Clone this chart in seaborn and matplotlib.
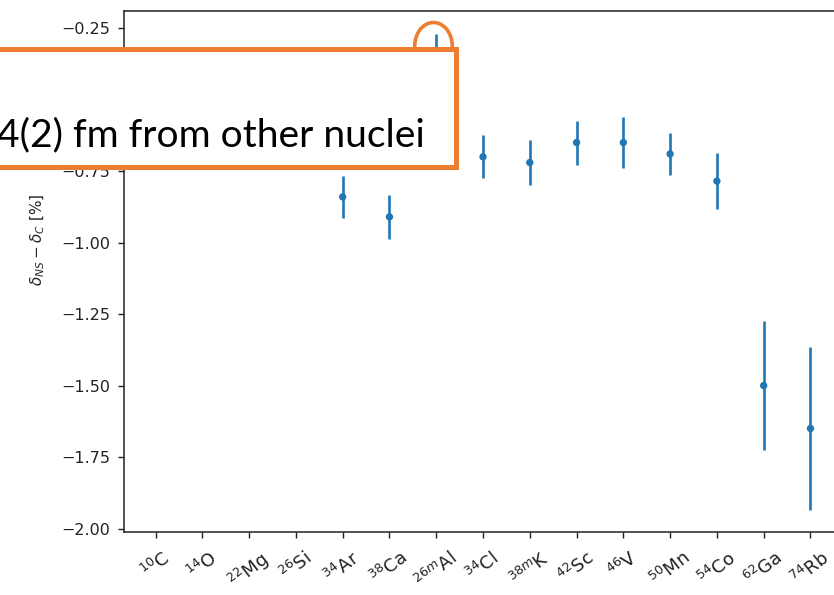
import numpy as np
import pandas as pd
import matplotlib
matplotlib.use("Agg")
import matplotlib.pyplot as plt
import seaborn as sns
from matplotlib.patches import Rectangle, Ellipse

# Superallowed emitters on the x axis
nuclei = [r"$^{10}$C", r"$^{14}$O", r"$^{22}$Mg", r"$^{26}$Si", r"$^{34}$Ar",
          r"$^{38}$Ca", r"$^{26m}$Al", r"$^{34}$Cl", r"$^{38m}$K", r"$^{42}$Sc",
          r"$^{46}$V", r"$^{50}$Mn", r"$^{54}$Co", r"$^{62}$Ga", r"$^{74}$Rb"]

# delta_NS - delta_C [%] and its uncertainty
delta_diff = [np.nan, np.nan, np.nan, np.nan, -0.84, -0.91, -0.345, -0.70,
              -0.72, -0.65, -0.65, -0.69, -0.785, -1.50, -1.65]
delta_err = [np.nan, np.nan, np.nan, np.nan, 0.073, 0.077, 0.075, 0.075,
             0.080, 0.077, 0.090, 0.074, 0.098, 0.225, 0.285]

y_ticks = [-2.00, -1.75, -1.50, -1.25, -1.00, -0.75, -0.50, -0.25]

note_text = "4(2) fm from other nuclei"

df = pd.DataFrame({"pos": np.arange(len(nuclei)),
                   "value": delta_diff,
                   "err": delta_err})

sns.set_style("ticks", rc={"axes.edgecolor": "#222222",
                           "xtick.color": "#222222",
                           "ytick.color": "#222222"})
plt.rcParams["font.family"] = ["DejaVu Sans"]
plt.rcParams["mathtext.fontset"] = "dejavusans"

W, H = 834, 595
fig = plt.figure(figsize=(W / 100, H / 100), dpi=100)
fig.patch.set_facecolor("white")


def fx(px):
    return px / W


def fy(py):
    return 1 - py / H


# axes run past the right edge of the figure
ax_l, ax_r, ax_t, ax_b = 123.5, 842.5, 11, 532
ax = fig.add_axes([fx(ax_l), fy(ax_b), fx(ax_r - ax_l), (ax_b - ax_t) / H])

blue = "#1f77b4"
ax.errorbar(df["pos"], df["value"], yerr=df["err"], fmt="none",
            ecolor=blue, elinewidth=1.9, capsize=0, zorder=2)
sns.scatterplot(data=df, x="pos", y="value", ax=ax, color=blue, s=28,
                edgecolor="none", linewidth=0, zorder=3, legend=False)

ax.set_xlim(-0.685, len(nuclei) - 1 + 0.685)
ax.set_ylim(-2.012, -0.19)
ax.set_xticks(df["pos"])
ax.set_xticklabels(nuclei, rotation=38, ha="center", fontsize=13)
ax.set_yticks(y_ticks)
ax.set_yticklabels([f"{v:.2f}".replace("-", "\u2212") for v in y_ticks],
                   fontsize=11.5)
ax.tick_params(axis="both", length=4.5, width=1.0)
ax.tick_params(axis="x", pad=7)
ax.tick_params(axis="y", pad=5)
ax.set_xlabel("")
ax.set_ylabel(r"$\delta_{NS} - \delta_{C}$ [%]", fontsize=11)
ax.yaxis.set_label_coords((47 - ax_l) / (ax_r - ax_l), (ax_b - 240) / (ax_b - ax_t))
for sp in ax.spines.values():
    sp.set_linewidth(1.1)

orange = "#ED7D31"

# highlight ring around the 26mAl point
ring = Ellipse((fx(433.5), fy(46)), width=fx(37.5), height=47 / H,
               transform=fig.transFigure, fill=False, edgecolor=orange,
               linewidth=2.6, zorder=5)
fig.add_artist(ring)

# callout box
box = Rectangle((fx(-20), fy(167)), fx(456 + 20), (167 - 49) / H,
                transform=fig.transFigure, facecolor="white",
                edgecolor=orange, linewidth=3.6, zorder=6)
fig.add_artist(box)

txt = fig.text(fx(-3), fy(146), note_text, ha="left", va="baseline",
               fontsize=22, family=["Lato", "DejaVu Sans"], color="black",
               zorder=7)

# size the callout text to span the box
fig.canvas.draw()
r = fig.canvas.get_renderer()
bb = txt.get_window_extent(r)
target = 424 - (-3)
txt.set_fontsize(22 * target / bb.width)

fig.savefig("out.png", dpi=100, facecolor="white")
